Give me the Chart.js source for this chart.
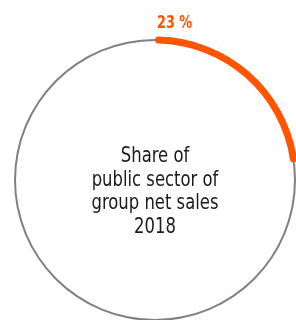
<!DOCTYPE html>
<html>
<head>
<meta charset="utf-8">
<script src="https://cdn.jsdelivr.net/npm/chart.js@4/dist/chart.umd.min.js"></script>
<style>
  html, body { margin: 0; padding: 0; background: #fff; overflow: hidden; }
  #wrap { position: relative; width: 296px; height: 320px; }
  #wrap canvas { position: absolute; left: 0; top: 0; }
</style>
</head>
<body>
<div id="wrap">
  <canvas id="ringChart" width="296" height="320"></canvas>
  <canvas id="shareChart" width="296" height="320"></canvas>
</div>
<script>
const SHARE_LABELS = ['Public sector', 'Other'];
const SHARE_VALUES = [23, 77];
const RING_VALUES  = [100];
const SHARE_TEXT   = '23 %';
const CENTER_LINES = ['Share of', 'public sector of', 'group net sales', '2018'];

const ORANGE = '#ff5500';
const GREY   = '#808080';
const FONT   = "'Liberation Sans Narrow', 'DejaVu Sans Condensed', sans-serif";

// chart area centred at (155, 180)
const PADDING = { left: 14, right: 0, top: 40, bottom: 0 };

const baseOptions = (radius, inner) => ({
  responsive: false, animation: false, events: [],
  devicePixelRatio: 1,
  radius: radius,
  cutout: (inner / radius * 100) + '%',
  layout: { padding: PADDING },
  plugins: { legend: { display: false }, tooltip: { enabled: false } },
});

new Chart(document.getElementById('ringChart'), {
  type: 'doughnut',
  data: { labels: ['All'], datasets: [{ data: RING_VALUES, backgroundColor: [GREY], borderWidth: 0 }] },
  options: baseOptions(141, 139),
});

// the reference type is narrower than any installed face, so squeeze it a bit
const squeezedText = (ctx, text, x, y, sx) => {
  ctx.save();
  ctx.translate(x, y);
  ctx.scale(sx, 1);
  ctx.fillText(text, 0, 0);
  ctx.restore();
};

const textPlugin = {
  id: 'texts',
  afterDraw(chart) {
    const ctx = chart.ctx;
    const arc = chart.getDatasetMeta(0).data[0];
    ctx.save();
    ctx.fillStyle = ORANGE;
    ctx.font = `bold 17px ${FONT}`;
    ctx.textAlign = 'left';
    ctx.textBaseline = 'alphabetic';
    squeezedText(ctx, SHARE_TEXT, arc.x + 2, 28, 0.84);

    ctx.fillStyle = '#1a1a1a';
    ctx.font = `21px ${FONT}`;
    ctx.textAlign = 'center';
    const lineH = 23.5;
    CENTER_LINES.forEach((line, i) => {
      squeezedText(ctx, line, arc.x, 162 + i * lineH, 0.87);
    });
    ctx.restore();
  },
};

new Chart(document.getElementById('shareChart'), {
  type: 'doughnut',
  data: {
    labels: SHARE_LABELS,
    datasets: [{ data: SHARE_VALUES, backgroundColor: [ORANGE, 'transparent'], borderWidth: 0, borderRadius: 3.5 }],
  },
  options: baseOptions(143.5, 136.5),
  plugins: [textPlugin],
});
</script>
</body>
</html>
